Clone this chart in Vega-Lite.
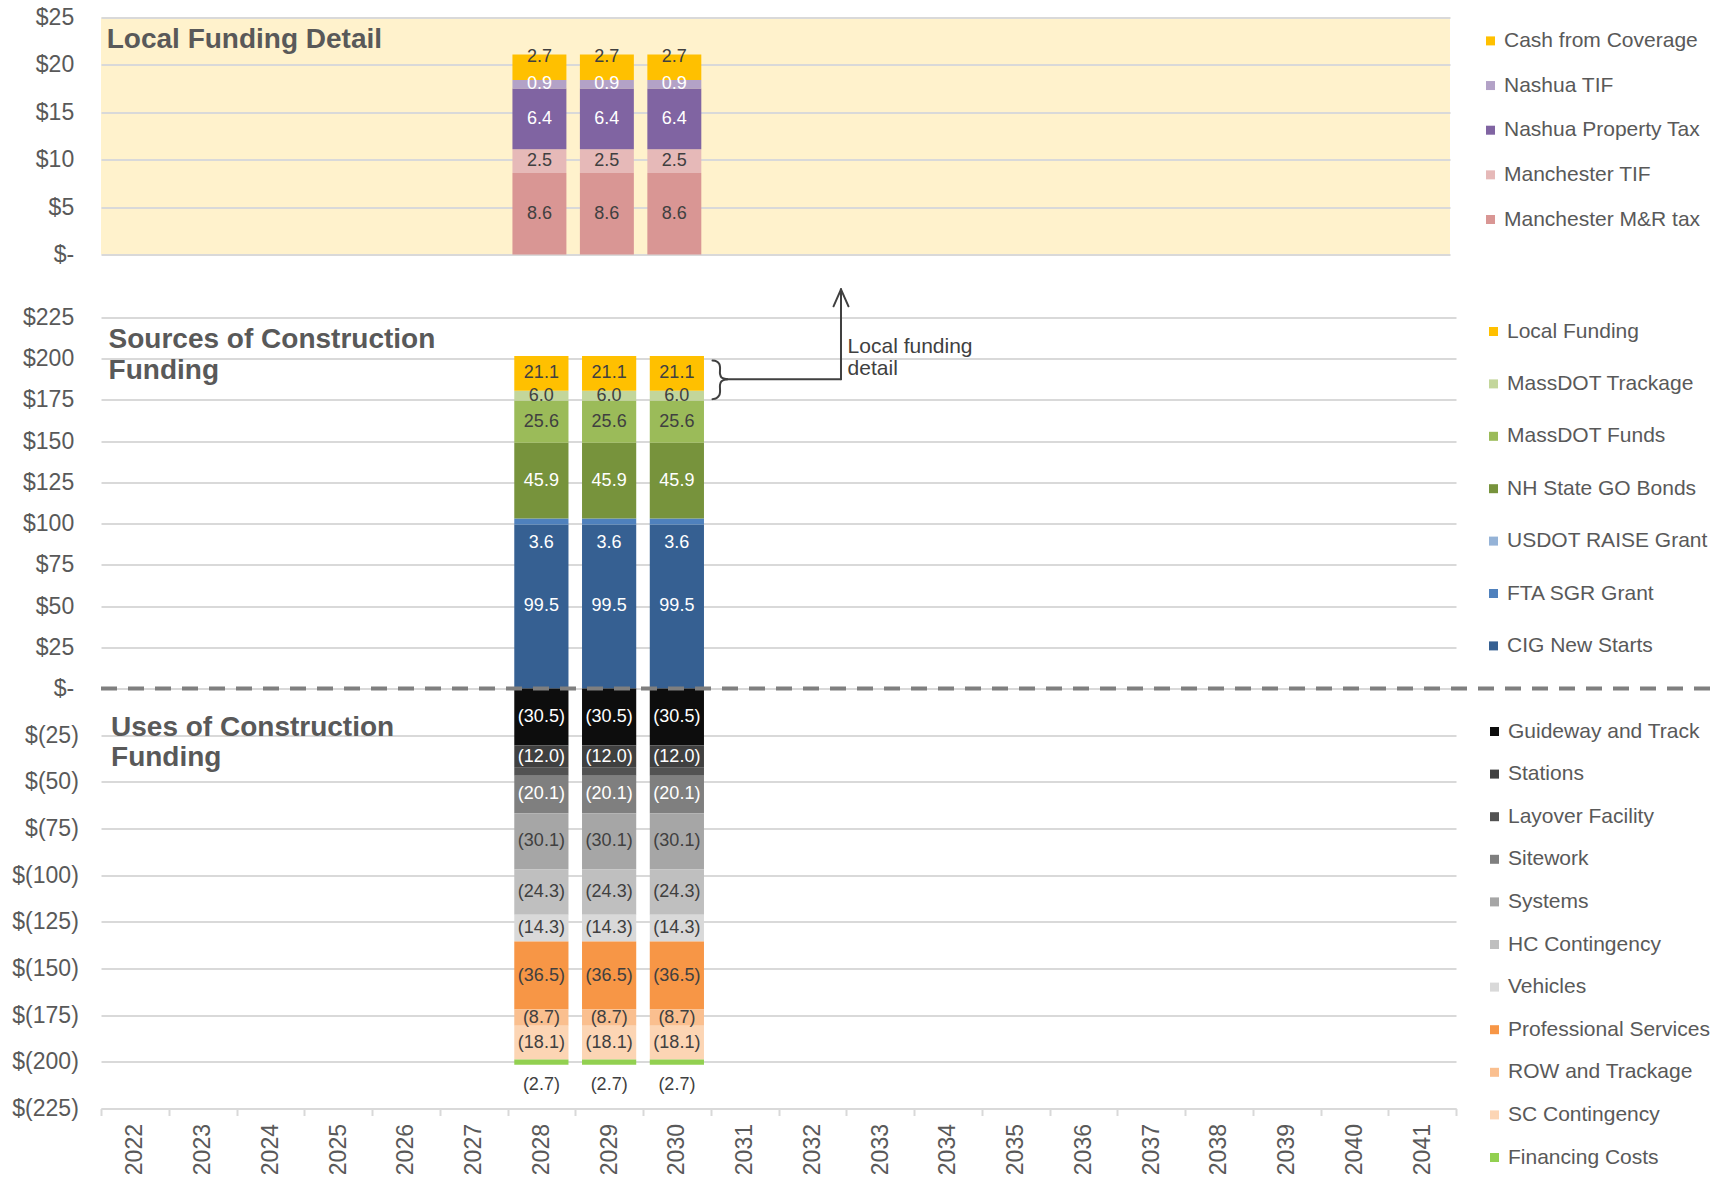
{
  "$schema": "https://vega.github.io/schema/vega-lite/v6.json",
  "padding": {"left": 11, "top": 6.5, "right": 0, "bottom": 0},
  "background": "white",
  "config": {
    "font": "Liberation Sans",
    "view": {"stroke": null},
    "axis": {"labelFont": "Liberation Sans", "labelColor": "#595959"},
    "axisY": {"labelFontSize": 23, "ticks": false, "tickSize": 0, "domain": false, "grid": true, "gridColor": "#d9d9d9", "gridWidth": 2, "labelFlush": false, "labelOverlap": false},
    "legend": {
      "symbolType": "square",
      "symbolSize": 81,
      "symbolStrokeWidth": 0,
      "labelFontSize": 21,
      "labelColor": "#595959",
      "labelFont": "Liberation Sans",
      "labelLimit": 400,
      "labelOffset": 3,
      "padding": 0
    }
  },
  "datasets": {
    "local": [
      {"year": "2028", "series": "Manchester M&R tax", "value": 8.6, "k": 1},
      {"year": "2028", "series": "Manchester TIF", "value": 2.5, "k": 2},
      {"year": "2028", "series": "Nashua Property Tax", "value": 6.4, "k": 3},
      {"year": "2028", "series": "Nashua TIF", "value": 0.9, "k": 4},
      {"year": "2028", "series": "Cash from Coverage", "value": 2.7, "k": 5},
      {"year": "2029", "series": "Manchester M&R tax", "value": 8.6, "k": 1},
      {"year": "2029", "series": "Manchester TIF", "value": 2.5, "k": 2},
      {"year": "2029", "series": "Nashua Property Tax", "value": 6.4, "k": 3},
      {"year": "2029", "series": "Nashua TIF", "value": 0.9, "k": 4},
      {"year": "2029", "series": "Cash from Coverage", "value": 2.7, "k": 5},
      {"year": "2030", "series": "Manchester M&R tax", "value": 8.6, "k": 1},
      {"year": "2030", "series": "Manchester TIF", "value": 2.5, "k": 2},
      {"year": "2030", "series": "Nashua Property Tax", "value": 6.4, "k": 3},
      {"year": "2030", "series": "Nashua TIF", "value": 0.9, "k": 4},
      {"year": "2030", "series": "Cash from Coverage", "value": 2.7, "k": 5}
    ],
    "sources": [
      {"year": "2028", "series": "CIG New Starts", "value": 99.5, "k": 1},
      {"year": "2028", "series": "FTA SGR Grant", "value": 3.6, "k": 2},
      {"year": "2028", "series": "NH State GO Bonds", "value": 45.9, "k": 4},
      {"year": "2028", "series": "MassDOT Funds", "value": 25.6, "k": 5},
      {"year": "2028", "series": "MassDOT Trackage", "value": 6.0, "k": 6},
      {"year": "2028", "series": "Local Funding", "value": 21.1, "k": 7},
      {"year": "2029", "series": "CIG New Starts", "value": 99.5, "k": 1},
      {"year": "2029", "series": "FTA SGR Grant", "value": 3.6, "k": 2},
      {"year": "2029", "series": "NH State GO Bonds", "value": 45.9, "k": 4},
      {"year": "2029", "series": "MassDOT Funds", "value": 25.6, "k": 5},
      {"year": "2029", "series": "MassDOT Trackage", "value": 6.0, "k": 6},
      {"year": "2029", "series": "Local Funding", "value": 21.1, "k": 7},
      {"year": "2030", "series": "CIG New Starts", "value": 99.5, "k": 1},
      {"year": "2030", "series": "FTA SGR Grant", "value": 3.6, "k": 2},
      {"year": "2030", "series": "NH State GO Bonds", "value": 45.9, "k": 4},
      {"year": "2030", "series": "MassDOT Funds", "value": 25.6, "k": 5},
      {"year": "2030", "series": "MassDOT Trackage", "value": 6.0, "k": 6},
      {"year": "2030", "series": "Local Funding", "value": 21.1, "k": 7}
    ],
    "uses": [
      {"year": "2028", "series": "Guideway and Track", "value": -30.5, "k": 1},
      {"year": "2028", "series": "Stations", "value": -12.0, "k": 2},
      {"year": "2028", "series": "Layover Facility", "value": -4.2, "k": 3},
      {"year": "2028", "series": "Sitework", "value": -20.1, "k": 4},
      {"year": "2028", "series": "Systems", "value": -30.1, "k": 5},
      {"year": "2028", "series": "HC Contingency", "value": -24.3, "k": 6},
      {"year": "2028", "series": "Vehicles", "value": -14.3, "k": 7},
      {"year": "2028", "series": "Professional Services", "value": -36.5, "k": 8},
      {"year": "2028", "series": "ROW and Trackage", "value": -8.7, "k": 9},
      {"year": "2028", "series": "SC Contingency", "value": -18.1, "k": 10},
      {"year": "2028", "series": "Financing Costs", "value": -2.7, "k": 11},
      {"year": "2029", "series": "Guideway and Track", "value": -30.5, "k": 1},
      {"year": "2029", "series": "Stations", "value": -12.0, "k": 2},
      {"year": "2029", "series": "Layover Facility", "value": -4.2, "k": 3},
      {"year": "2029", "series": "Sitework", "value": -20.1, "k": 4},
      {"year": "2029", "series": "Systems", "value": -30.1, "k": 5},
      {"year": "2029", "series": "HC Contingency", "value": -24.3, "k": 6},
      {"year": "2029", "series": "Vehicles", "value": -14.3, "k": 7},
      {"year": "2029", "series": "Professional Services", "value": -36.5, "k": 8},
      {"year": "2029", "series": "ROW and Trackage", "value": -8.7, "k": 9},
      {"year": "2029", "series": "SC Contingency", "value": -18.1, "k": 10},
      {"year": "2029", "series": "Financing Costs", "value": -2.7, "k": 11},
      {"year": "2030", "series": "Guideway and Track", "value": -30.5, "k": 1},
      {"year": "2030", "series": "Stations", "value": -12.0, "k": 2},
      {"year": "2030", "series": "Layover Facility", "value": -4.2, "k": 3},
      {"year": "2030", "series": "Sitework", "value": -20.1, "k": 4},
      {"year": "2030", "series": "Systems", "value": -30.1, "k": 5},
      {"year": "2030", "series": "HC Contingency", "value": -24.3, "k": 6},
      {"year": "2030", "series": "Vehicles", "value": -14.3, "k": 7},
      {"year": "2030", "series": "Professional Services", "value": -36.5, "k": 8},
      {"year": "2030", "series": "ROW and Trackage", "value": -8.7, "k": 9},
      {"year": "2030", "series": "SC Contingency", "value": -18.1, "k": 10},
      {"year": "2030", "series": "Financing Costs", "value": -2.7, "k": 11}
    ],
    "notes": [
      {"kind": "title", "panel": "top", "label": "Local Funding Detail", "xv": 2021.585, "yv": 21.78},
      {"kind": "title", "panel": "mid", "label": "Sources of Construction", "xv": 2021.612, "yv": 206.3},
      {"kind": "title", "panel": "mid", "label": "Funding", "xv": 2021.612, "yv": 187.5},
      {"kind": "title", "panel": "bot", "label": "Uses of Construction", "xv": 2021.648, "yv": -25.2},
      {"kind": "title", "panel": "bot", "label": "Funding", "xv": 2021.648, "yv": -41.5},
      {"kind": "note", "panel": "mid", "label": "Local funding", "xv": 2032.52, "yv": 207.3},
      {"kind": "note", "panel": "mid", "label": "detail", "xv": 2032.52, "yv": 193.6},
      {"kind": "line", "part": "braceA", "i": 1, "xv": 2030.526, "yv": 198.9},
      {"kind": "line", "part": "braceA", "i": 2, "xv": 2030.585, "yv": 198.4},
      {"kind": "line", "part": "braceA", "i": 3, "xv": 2030.626, "yv": 196.8},
      {"kind": "line", "part": "braceA", "i": 4, "xv": 2030.637, "yv": 194.7},
      {"kind": "line", "part": "braceA", "i": 5, "xv": 2030.637, "yv": 190.7},
      {"kind": "line", "part": "braceA", "i": 6, "xv": 2030.659, "yv": 188.6},
      {"kind": "line", "part": "braceA", "i": 7, "xv": 2030.74, "yv": 187.5},
      {"kind": "line", "part": "braceB", "i": 1, "xv": 2030.74, "yv": 187.5},
      {"kind": "line", "part": "braceB", "i": 2, "xv": 2030.659, "yv": 186.4},
      {"kind": "line", "part": "braceB", "i": 3, "xv": 2030.637, "yv": 184.3},
      {"kind": "line", "part": "braceB", "i": 4, "xv": 2030.637, "yv": 179.9},
      {"kind": "line", "part": "braceB", "i": 5, "xv": 2030.626, "yv": 177.8},
      {"kind": "line", "part": "braceB", "i": 6, "xv": 2030.585, "yv": 176.1},
      {"kind": "line", "part": "braceB", "i": 7, "xv": 2030.526, "yv": 175.5},
      {"kind": "line", "part": "hline", "i": 1, "xv": 2030.74, "yv": 187.5},
      {"kind": "line", "part": "hline", "i": 2, "xv": 2032.4225, "yv": 187.5},
      {"kind": "line", "part": "vline", "i": 1, "xv": 2032.4225, "yv": 187.5},
      {"kind": "line", "part": "vline", "i": 2, "xv": 2032.4225, "yv": 242.1},
      {"kind": "line", "part": "armL", "i": 1, "xv": 2032.312, "yv": 231.8},
      {"kind": "line", "part": "armL", "i": 2, "xv": 2032.4225, "yv": 242.1},
      {"kind": "line", "part": "armR", "i": 1, "xv": 2032.533, "yv": 231.8},
      {"kind": "line", "part": "armR", "i": 2, "xv": 2032.4225, "yv": 242.1}
    ]
  },
  "bounds": "flush",
  "spacing": 63,
  "resolve": {"scale": {"x": "independent", "y": "independent", "color": "independent"}, "legend": {"color": "independent"}},
  "vconcat": [
    {
      "width": 1349,
      "height": 237,
      "view": {"fill": "#fff2cc", "stroke": null},
      "resolve": {"scale": {"x": "independent"}},
      "layer": [
        {
          "data": {"name": "local"},
          "mark": {"type": "bar", "width": {"band": 0.8}},
          "encoding": {
            "x": {"field": "year", "type": "ordinal", "scale": {"domain": ["2022","2023","2024","2025","2026","2027","2028","2029","2030","2031","2032","2033","2034","2035","2036","2037","2038","2039","2040","2041"], "paddingInner": 0, "paddingOuter": 0}, "axis": null},
            "y": {"field": "value", "type": "quantitative", "stack": "zero", "scale": {"domain": [0, 25], "nice": false},
              "axis": {"values": [0, 5, 10, 15, 20, 25], "title": null, "labelExpr": "datum.value == 0 ? '$-' : datum.value < 0 ? '$(' + (-datum.value) + ')' : '$' + datum.value", "labelPadding": 27.3}},
            "color": {"field": "series", "type": "nominal",
              "scale": {"domain": ["Cash from Coverage", "Nashua TIF", "Nashua Property Tax", "Manchester TIF", "Manchester M&R tax"], "range": ["#ffc000", "#b3a2c7", "#8064a2", "#e6b9b8", "#d99694"]},
              "legend": {"title": null, "orient": "none", "legendX": 1379, "legendY": 12.9, "rowPadding": 22.65}},
            "order": {"field": "k", "type": "quantitative"}
          }
        },
        {
          "data": {"name": "local"},
          "mark": {"type": "text", "fontSize": 18, "baseline": "middle"},
          "encoding": {
            "x": {"field": "year", "type": "ordinal", "scale": {"domain": ["2022","2023","2024","2025","2026","2027","2028","2029","2030","2031","2032","2033","2034","2035","2036","2037","2038","2039","2040","2041"], "paddingInner": 0, "paddingOuter": 0}, "axis": null},
            "y": {"field": "value", "type": "quantitative", "stack": "zero", "bandPosition": 0.5, "scale": {"domain": [0, 25], "nice": false},
              "axis": {"values": [0, 5, 10, 15, 20, 25], "title": null, "labelExpr": "datum.value == 0 ? '$-' : datum.value < 0 ? '$(' + (-datum.value) + ')' : '$' + datum.value", "labelPadding": 27.3}},
            "detail": {"field": "series", "type": "nominal"},
            "order": {"field": "k", "type": "quantitative"},
            "text": {"condition": {"test": "datum.series !== 'Cash from Coverage'", "field": "value", "type": "quantitative", "format": ".1f"}, "value": ""},
            "color": {"condition": {"test": "indexof(['Nashua TIF','Nashua Property Tax'], datum.series) >= 0", "value": "#ffffff"}, "value": "#404040"}
          }
        },
        {
          "data": {"name": "local"},
          "mark": {"type": "text", "fontSize": 18, "baseline": "middle", "dy": -10.5},
          "encoding": {
            "x": {"field": "year", "type": "ordinal", "scale": {"domain": ["2022","2023","2024","2025","2026","2027","2028","2029","2030","2031","2032","2033","2034","2035","2036","2037","2038","2039","2040","2041"], "paddingInner": 0, "paddingOuter": 0}, "axis": null},
            "y": {"field": "value", "type": "quantitative", "stack": "zero", "bandPosition": 0.5, "scale": {"domain": [0, 25], "nice": false},
              "axis": {"values": [0, 5, 10, 15, 20, 25], "title": null, "labelExpr": "datum.value == 0 ? '$-' : datum.value < 0 ? '$(' + (-datum.value) + ')' : '$' + datum.value", "labelPadding": 27.3}},
            "detail": {"field": "series", "type": "nominal"},
            "order": {"field": "k", "type": "quantitative"},
            "text": {"condition": {"test": "datum.series === 'Cash from Coverage'", "field": "value", "type": "quantitative", "format": ".1f"}, "value": ""},
            "color": {"value": "#404040"}
          }
        },
        {
          "data": {"name": "notes"},
          "transform": [{"filter": "datum.kind === 'title' && datum.panel === 'top'"}],
          "mark": {"type": "text", "fontSize": 28, "fontWeight": "bold", "color": "#595959", "align": "left", "baseline": "alphabetic"},
          "encoding": {
            "x": {"field": "xv", "type": "quantitative", "scale": {"domain": [2021.5, 2041.5], "nice": false, "zero": false}, "axis": null},
            "y": {"field": "yv", "type": "quantitative", "scale": {"domain": [0, 25], "nice": false},
              "axis": {"values": [0, 5, 10, 15, 20, 25], "title": null, "labelExpr": "datum.value == 0 ? '$-' : datum.value < 0 ? '$(' + (-datum.value) + ')' : '$' + datum.value", "labelPadding": 27.3}},
            "text": {"field": "label", "type": "nominal"}
          }
        }
      ]
    },
    {
      "bounds": "flush",
      "spacing": 0,
      "resolve": {"scale": {"x": "independent", "y": "independent", "color": "independent"}, "legend": {"color": "independent"}},
      "vconcat": [
        {
          "width": 1355,
          "height": 371,
          "resolve": {"scale": {"x": "independent"}},
          "layer": [
            {
              "data": {"name": "sources"},
              "mark": {"type": "bar", "width": {"band": 0.8}},
              "encoding": {
                "x": {"field": "year", "type": "ordinal", "scale": {"domain": ["2022","2023","2024","2025","2026","2027","2028","2029","2030","2031","2032","2033","2034","2035","2036","2037","2038","2039","2040","2041"], "paddingInner": 0, "paddingOuter": 0}, "axis": null},
                "y": {"field": "value", "type": "quantitative", "stack": "zero", "scale": {"domain": [0, 225], "nice": false},
                  "axis": {"values": [0, 25, 50, 75, 100, 125, 150, 175, 200, 225], "title": null, "labelExpr": "datum.value == 0 ? '$-' : datum.value < 0 ? '$(' + (-datum.value) + ')' : '$' + datum.value", "labelPadding": 27.3}},
                "color": {"field": "series", "type": "nominal",
                  "scale": {"domain": ["Local Funding", "MassDOT Trackage", "MassDOT Funds", "NH State GO Bonds", "USDOT RAISE Grant", "FTA SGR Grant", "CIG New Starts"], "range": ["#ffc000", "#c3d69b", "#9bbb59", "#77933c", "#95b3d7", "#4f81bd", "#366092"]},
                  "legend": {"title": null, "orient": "none", "legendX": 1382, "legendY": 3.5, "rowPadding": 30.4}},
                "order": {"field": "k", "type": "quantitative"}
              }
            },
            {
              "data": {"name": "sources"},
              "mark": {"type": "text", "fontSize": 18, "baseline": "middle"},
              "encoding": {
                "x": {"field": "year", "type": "ordinal", "scale": {"domain": ["2022","2023","2024","2025","2026","2027","2028","2029","2030","2031","2032","2033","2034","2035","2036","2037","2038","2039","2040","2041"], "paddingInner": 0, "paddingOuter": 0}, "axis": null},
                "y": {"field": "value", "type": "quantitative", "stack": "zero", "bandPosition": 0.5, "scale": {"domain": [0, 225], "nice": false},
                  "axis": {"values": [0, 25, 50, 75, 100, 125, 150, 175, 200, 225], "title": null, "labelExpr": "datum.value == 0 ? '$-' : datum.value < 0 ? '$(' + (-datum.value) + ')' : '$' + datum.value", "labelPadding": 27.3}},
                "detail": {"field": "series", "type": "nominal"},
                "order": {"field": "k", "type": "quantitative"},
                "text": {"condition": {"test": "datum.series !== 'FTA SGR Grant'", "field": "value", "type": "quantitative", "format": ".1f"}, "value": ""},
                "color": {"condition": {"test": "indexof(['NH State GO Bonds','FTA SGR Grant','CIG New Starts'], datum.series) >= 0", "value": "#ffffff"}, "value": "#404040"}
              }
            },
            {
              "data": {"name": "sources"},
              "mark": {"type": "text", "fontSize": 18, "baseline": "middle", "dy": 22},
              "encoding": {
                "x": {"field": "year", "type": "ordinal", "scale": {"domain": ["2022","2023","2024","2025","2026","2027","2028","2029","2030","2031","2032","2033","2034","2035","2036","2037","2038","2039","2040","2041"], "paddingInner": 0, "paddingOuter": 0}, "axis": null},
                "y": {"field": "value", "type": "quantitative", "stack": "zero", "bandPosition": 0.5, "scale": {"domain": [0, 225], "nice": false},
                  "axis": {"values": [0, 25, 50, 75, 100, 125, 150, 175, 200, 225], "title": null, "labelExpr": "datum.value == 0 ? '$-' : datum.value < 0 ? '$(' + (-datum.value) + ')' : '$' + datum.value", "labelPadding": 27.3}},
                "detail": {"field": "series", "type": "nominal"},
                "order": {"field": "k", "type": "quantitative"},
                "text": {"condition": {"test": "datum.series === 'FTA SGR Grant'", "field": "value", "type": "quantitative", "format": ".1f"}, "value": ""},
                "color": {"value": "#ffffff"}
              }
            },
            {
              "data": {"name": "notes"},
              "transform": [{"filter": "datum.kind === 'line'"}],
              "mark": {"type": "line", "color": "#404040", "strokeWidth": 2, "strokeCap": "round", "interpolate": "catmull-rom"},
              "encoding": {
                "x": {"field": "xv", "type": "quantitative", "scale": {"domain": [2021.5, 2041.5], "nice": false, "zero": false}, "axis": null},
                "y": {"field": "yv", "type": "quantitative", "scale": {"domain": [0, 225], "nice": false},
                  "axis": {"values": [0, 25, 50, 75, 100, 125, 150, 175, 200, 225], "title": null, "labelExpr": "datum.value == 0 ? '$-' : datum.value < 0 ? '$(' + (-datum.value) + ')' : '$' + datum.value", "labelPadding": 27.3}},
                "detail": {"field": "part", "type": "nominal"},
                "order": {"field": "i", "type": "quantitative"}
              }
            },
            {
              "data": {"name": "notes"},
              "transform": [{"filter": "datum.kind === 'note'"}],
              "mark": {"type": "text", "fontSize": 21, "color": "#404040", "align": "left", "baseline": "middle"},
              "encoding": {
                "x": {"field": "xv", "type": "quantitative", "scale": {"domain": [2021.5, 2041.5], "nice": false, "zero": false}, "axis": null},
                "y": {"field": "yv", "type": "quantitative", "scale": {"domain": [0, 225], "nice": false},
                  "axis": {"values": [0, 25, 50, 75, 100, 125, 150, 175, 200, 225], "title": null, "labelExpr": "datum.value == 0 ? '$-' : datum.value < 0 ? '$(' + (-datum.value) + ')' : '$' + datum.value", "labelPadding": 27.3}},
                "text": {"field": "label", "type": "nominal"}
              }
            },
            {
              "data": {"name": "notes"},
              "transform": [{"filter": "datum.kind === 'title' && datum.panel === 'mid'"}],
              "mark": {"type": "text", "fontSize": 28, "fontWeight": "bold", "color": "#595959", "align": "left", "baseline": "alphabetic"},
              "encoding": {
                "x": {"field": "xv", "type": "quantitative", "scale": {"domain": [2021.5, 2041.5], "nice": false, "zero": false}, "axis": null},
                "y": {"field": "yv", "type": "quantitative", "scale": {"domain": [0, 225], "nice": false},
                  "axis": {"values": [0, 25, 50, 75, 100, 125, 150, 175, 200, 225], "title": null, "labelExpr": "datum.value == 0 ? '$-' : datum.value < 0 ? '$(' + (-datum.value) + ')' : '$' + datum.value", "labelPadding": 27.3}},
                "text": {"field": "label", "type": "nominal"}
              }
            }
          ]
        },
        {
          "width": 1355,
          "height": 420,
          "resolve": {"scale": {"x": "independent"}},
          "layer": [
            {
              "data": {"name": "uses"},
              "mark": {"type": "bar", "width": {"band": 0.8}},
              "encoding": {
                "x": {"field": "year", "type": "ordinal", "scale": {"domain": ["2022","2023","2024","2025","2026","2027","2028","2029","2030","2031","2032","2033","2034","2035","2036","2037","2038","2039","2040","2041"], "paddingInner": 0, "paddingOuter": 0},
                  "axis": {"title": null, "labelAngle": -90, "labelFontSize": 23, "labelColor": "#595959", "tickBand": "extent", "ticks": true, "tickSize": 7, "tickColor": "#d9d9d9", "tickWidth": 2, "domain": true, "domainColor": "#d9d9d9", "domainWidth": 2, "labelPadding": 8, "grid": false, "labelOverlap": false}},
                "y": {"field": "value", "type": "quantitative", "stack": "zero", "scale": {"domain": [-225, 0], "nice": false},
                  "axis": {"values": [-225, -200, -175, -150, -125, -100, -75, -50, -25], "title": null, "labelExpr": "datum.value == 0 ? '$-' : datum.value < 0 ? '$(' + (-datum.value) + ')' : '$' + datum.value", "labelPadding": 22.7}},
                "color": {"field": "series", "type": "nominal",
                  "scale": {"domain": ["Guideway and Track", "Stations", "Layover Facility", "Sitework", "Systems", "HC Contingency", "Vehicles", "Professional Services", "ROW and Trackage", "SC Contingency", "Financing Costs"], "range": ["#0d0d0d", "#404040", "#525252", "#7f7f7f", "#a6a6a6", "#bfbfbf", "#d9d9d9", "#f79646", "#fabf8f", "#fcd5b4", "#92d050"]},
                  "legend": {"title": null, "orient": "none", "legendX": 1383, "legendY": 32.5, "rowPadding": 20.6}},
                "order": {"field": "k", "type": "quantitative"}
              }
            },
            {
              "data": {"name": "uses"},
              "mark": {"type": "text", "fontSize": 18, "baseline": "middle"},
              "encoding": {
                "x": {"field": "year", "type": "ordinal", "scale": {"domain": ["2022","2023","2024","2025","2026","2027","2028","2029","2030","2031","2032","2033","2034","2035","2036","2037","2038","2039","2040","2041"], "paddingInner": 0, "paddingOuter": 0}, "axis": null},
                "y": {"field": "value", "type": "quantitative", "stack": "zero", "bandPosition": 0.5, "scale": {"domain": [-225, 0], "nice": false},
                  "axis": {"values": [-225, -200, -175, -150, -125, -100, -75, -50, -25], "title": null, "labelExpr": "datum.value == 0 ? '$-' : datum.value < 0 ? '$(' + (-datum.value) + ')' : '$' + datum.value", "labelPadding": 22.7}},
                "detail": {"field": "series", "type": "nominal"},
                "order": {"field": "k", "type": "quantitative"},
                "text": {"condition": {"test": "datum.series !== 'Financing Costs' && datum.series !== 'Layover Facility'", "field": "value", "type": "quantitative", "format": "(.1f"}, "value": ""},
                "color": {"condition": {"test": "indexof(['Guideway and Track','Stations','Sitework'], datum.series) >= 0", "value": "#ffffff"}, "value": "#404040"}
              }
            },
            {
              "data": {"name": "uses"},
              "mark": {"type": "text", "fontSize": 18, "baseline": "middle", "dy": 23},
              "encoding": {
                "x": {"field": "year", "type": "ordinal", "scale": {"domain": ["2022","2023","2024","2025","2026","2027","2028","2029","2030","2031","2032","2033","2034","2035","2036","2037","2038","2039","2040","2041"], "paddingInner": 0, "paddingOuter": 0}, "axis": null},
                "y": {"field": "value", "type": "quantitative", "stack": "zero", "bandPosition": 0.5, "scale": {"domain": [-225, 0], "nice": false},
                  "axis": {"values": [-225, -200, -175, -150, -125, -100, -75, -50, -25], "title": null, "labelExpr": "datum.value == 0 ? '$-' : datum.value < 0 ? '$(' + (-datum.value) + ')' : '$' + datum.value", "labelPadding": 22.7}},
                "detail": {"field": "series", "type": "nominal"},
                "order": {"field": "k", "type": "quantitative"},
                "text": {"condition": {"test": "datum.series === 'Financing Costs'", "field": "value", "type": "quantitative", "format": "(.1f"}, "value": ""},
                "color": {"value": "#404040"}
              }
            },
            {
              "data": {"values": [{}]},
              "mark": {"type": "rule", "color": "#7f7f7f", "strokeWidth": 4, "strokeDash": [16, 11]},
              "encoding": {
                "x": {"datum": 2021.5, "type": "quantitative", "scale": {"domain": [2021.5, 2041.5], "nice": false, "zero": false}, "axis": null},
                "x2": {"datum": 2046},
                "y": {"datum": 0, "type": "quantitative", "scale": {"domain": [-225, 0], "nice": false},
                  "axis": {"values": [-225, -200, -175, -150, -125, -100, -75, -50, -25], "title": null, "labelExpr": "datum.value == 0 ? '$-' : datum.value < 0 ? '$(' + (-datum.value) + ')' : '$' + datum.value", "labelPadding": 22.7}}
              }
            },
            {
              "data": {"name": "notes"},
              "transform": [{"filter": "datum.kind === 'title' && datum.panel === 'bot'"}],
              "mark": {"type": "text", "fontSize": 28, "fontWeight": "bold", "color": "#595959", "align": "left", "baseline": "alphabetic"},
              "encoding": {
                "x": {"field": "xv", "type": "quantitative", "scale": {"domain": [2021.5, 2041.5], "nice": false, "zero": false}, "axis": null},
                "y": {"field": "yv", "type": "quantitative", "scale": {"domain": [-225, 0], "nice": false},
                  "axis": {"values": [-225, -200, -175, -150, -125, -100, -75, -50, -25], "title": null, "labelExpr": "datum.value == 0 ? '$-' : datum.value < 0 ? '$(' + (-datum.value) + ')' : '$' + datum.value", "labelPadding": 22.7}},
                "text": {"field": "label", "type": "nominal"}
              }
            }
          ]
        }
      ]
    }
  ]
}
